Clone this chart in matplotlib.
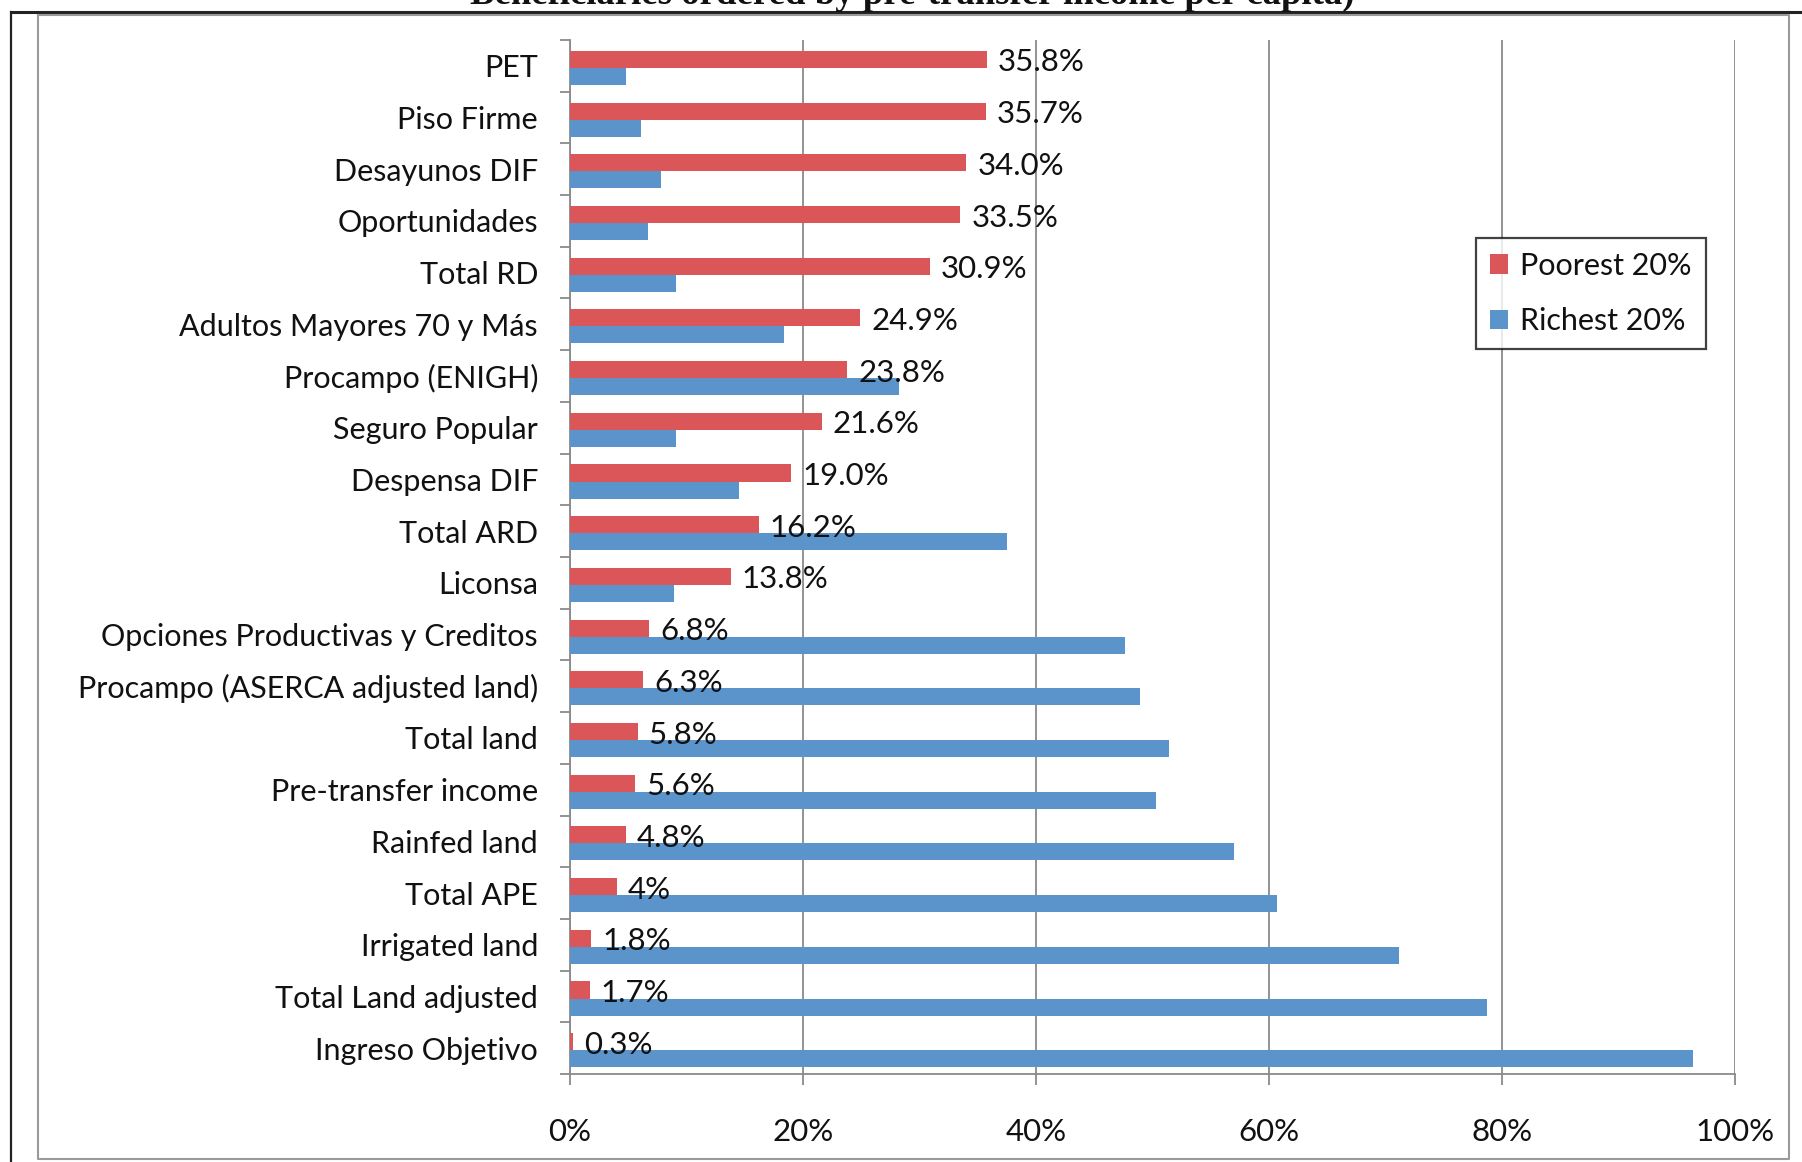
import matplotlib
matplotlib.use("Agg")
import matplotlib.pyplot as plt
import numpy as np
from matplotlib.lines import Line2D

categories = ["PET", "Piso Firme", "Desayunos DIF", "Oportunidades", "Total RD",
              "Adultos Mayores 70 y Más", "Procampo (ENIGH)", "Seguro Popular",
              "Despensa DIF", "Total ARD", "Liconsa", "Opciones Productivas y Creditos",
              "Procampo (ASERCA adjusted land)", "Total land", "Pre-transfer income",
              "Rainfed land", "Total APE", "Irrigated land", "Total Land adjusted",
              "Ingreso Objetivo"]
poorest = [35.8, 35.7, 34.0, 33.5, 30.9, 24.9, 23.8, 21.6, 19.0, 16.2, 13.8,
           6.8, 6.3, 5.8, 5.6, 4.8, 4.0, 1.8, 1.7, 0.3]
poorest_labels = ["35.8%", "35.7%", "34.0%", "33.5%", "30.9%", "24.9%", "23.8%",
                  "21.6%", "19.0%", "16.2%", "13.8%", "6.8%", "6.3%", "5.8%",
                  "5.6%", "4.8%", "4%", "1.8%", "1.7%", "0.3%"]
richest = [4.8, 6.1, 7.8, 6.7, 9.1, 18.4, 28.2, 9.1, 14.5, 37.5, 8.9,
           47.6, 48.9, 51.4, 50.3, 57.0, 60.7, 71.2, 78.7, 96.4]
xticks = [0, 20, 40, 60, 80, 100]
xtick_labels = ["0%", "20%", "40%", "60%", "80%", "100%"]
series_names = ["Poorest 20%", "Richest 20%"]

RED = "#DA5659"
BLUE = "#5B93CB"
GRID = "#8A8A8A"
TXT = "#111111"

plt.rcParams['font.family'] = ['Lato', 'DejaVu Sans']

W, H = 1802, 1162
fig = plt.figure(figsize=(W / 100, H / 100), dpi=100)

# frame decorations
fig.add_artist(Line2D([11 / W, 1.0], [1 - 12 / H, 1 - 12 / H], color="#222222", lw=2.2,
                      transform=fig.transFigure))
fig.add_artist(Line2D([11 / W, 11 / W], [0, 1 - 12 / H], color="#222222", lw=1.6,
                      transform=fig.transFigure))
fig.add_artist(Line2D([38 / W, 38 / W, 1789 / W, 1789 / W, 38 / W],
                      [1 - 15 / H, 1 - 1159 / H, 1 - 1159 / H, 1 - 15 / H, 1 - 15 / H],
                      color="#9A9A9A", lw=1.5, transform=fig.transFigure))

# cut-off title at the very top
fig.text(912 / W, 1 - 4 / H, "Beneficiaries ordered by pre-transfer income per capita)",
         ha="center", va="baseline", fontsize=26.5, fontweight="bold",
         family=["Liberation Serif", "DejaVu Serif"], color=TXT)

ax = fig.add_axes([570 / W, 1 - 1074 / H, (1735 - 570) / W, (1074 - 40) / H])

n = len(categories)
y = np.arange(n)
h = 0.33
shift = 0.04
ax.barh(y + shift - h / 2, poorest, height=h, color=RED, label=series_names[0], zorder=3)
ax.barh(y + shift + h / 2, richest, height=h, color=BLUE, label=series_names[1], zorder=3)

for yi, v, lab in zip(y, poorest, poorest_labels):
    ax.annotate(lab, xy=(v, yi - h / 2 + 0.1), xytext=(8, 0), textcoords="offset points",
                ha="left", va="center", fontsize=22.5, color=TXT, zorder=4)

ax.set_xlim(0, 100)
ax.set_ylim(n - 0.5, -0.5)
ax.set_xticks(xticks)
ax.set_xticklabels(xtick_labels, fontsize=22.5, color=TXT)
ax.set_yticks(y)
ax.set_yticklabels(categories, fontsize=22, color=TXT)
ax.set_yticks(np.arange(n + 1) - 0.5, minor=True)
ax.tick_params(axis="y", which="major", length=0, pad=23)
ax.tick_params(axis="y", which="minor", length=7, width=1.3, color=GRID, direction="out")
ax.tick_params(axis="x", which="major", length=8, width=1.3, color=GRID, direction="out", pad=24)

ax.grid(axis="x", color=GRID, lw=1.3, zorder=0)
for s in ["top", "right"]:
    ax.spines[s].set_visible(False)
for s in ["left", "bottom"]:
    ax.spines[s].set_color(GRID)
    ax.spines[s].set_linewidth(1.3)

leg = ax.legend(loc="upper left", bbox_to_anchor=(1476 / W, 1 - 238 / H),
                bbox_transform=fig.transFigure, fontsize=22, frameon=True,
                fancybox=False, edgecolor=TXT, handlelength=0.6, handleheight=0.6,
                handletextpad=0.4, labelspacing=0.9, borderpad=0.45, borderaxespad=0)
leg.get_frame().set_linewidth(1.6)
for t in leg.get_texts():
    t.set_color(TXT)

fig.savefig("out.png", dpi=100)
